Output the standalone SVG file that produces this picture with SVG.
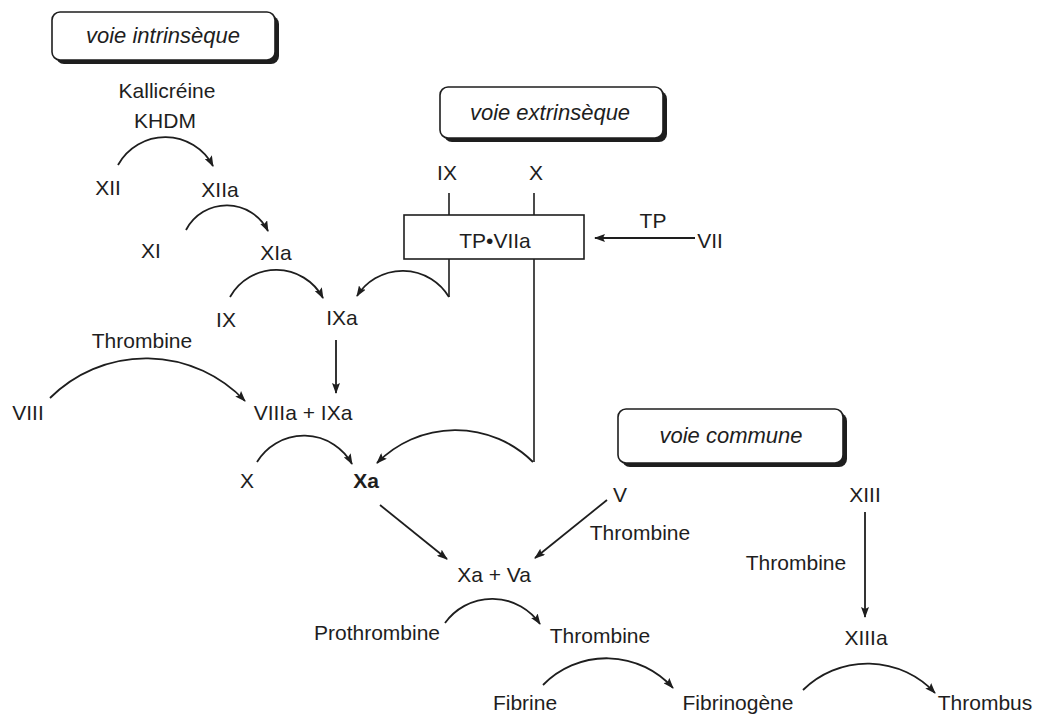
<svg xmlns="http://www.w3.org/2000/svg" width="1042" height="717" viewBox="0 0 1042 717">
<style>
text{font-family:"Liberation Sans",Arial,sans-serif;font-size:21px;fill:#1e1e1e;text-anchor:middle}
.t{font-size:22px;font-style:italic}
.b{font-weight:bold}
.ln{fill:none;stroke:#1e1e1e;stroke-width:1.6}
.ar{fill:none;stroke:#1e1e1e;stroke-width:1.8;marker-end:url(#ah)}
.sh{fill:#1e1e1e}
.bx{fill:#fff;stroke:#1e1e1e;stroke-width:1.6}
</style>
<defs>
<marker id="ah" markerUnits="userSpaceOnUse" markerWidth="11" markerHeight="8" refX="10" refY="4" orient="auto">
<path d="M0,0 L11,4 L0,8 L2,4 z" fill="#1e1e1e"/>
</marker>
</defs>
<rect width="1042" height="717" fill="#fff"/>

<g id="box-intrinseque">
<rect class="sh" x="56" y="16" width="223" height="48" rx="8"/>
<rect class="bx" x="52" y="12" width="223" height="48" rx="8"/>
<text class="t" x="163" y="43">voie intrinsèque</text>
</g>
<g id="box-extrinseque">
<rect class="sh" x="444" y="91" width="223" height="51" rx="8"/>
<rect class="bx" x="440" y="87" width="223" height="51" rx="8"/>
<text class="t" x="550" y="120">voie extrinsèque</text>
</g>
<g id="box-commune">
<rect class="sh" x="622" y="413" width="225" height="54" rx="8"/>
<rect class="bx" x="618" y="409" width="225" height="54" rx="8"/>
<text class="t" x="731" y="443">voie commune</text>
</g>
<g id="tp-viia">
<rect class="bx" x="404" y="215" width="180" height="44"/>
<text x="495" y="248">TP•VIIa</text>
</g>

<g id="n-kallicreine"><text x="167" y="98">Kallicréine</text><text x="165" y="128">KHDM</text></g>
<g id="n-xii"><text x="108" y="195">XII</text></g>
<g id="n-xiia"><text x="220" y="197">XIIa</text></g>
<g id="n-xi"><text x="151" y="258">XI</text></g>
<g id="n-xia"><text x="276" y="260">XIa</text></g>
<g id="n-ix"><text x="226" y="327">IX</text></g>
<g id="n-ixa"><text x="342" y="325">IXa</text></g>
<g id="n-thrombine1"><text x="142" y="348">Thrombine</text></g>
<g id="n-viii"><text x="28" y="420">VIII</text></g>
<g id="n-viiia-ixa"><text x="303" y="420">VIIIa + IXa</text></g>
<g id="n-x"><text x="247" y="488">X</text></g>
<g id="n-xa"><text class="b" x="366" y="488">Xa</text></g>
<g id="n-ix2"><text x="447" y="180">IX</text></g>
<g id="n-x2"><text x="536" y="180">X</text></g>
<g id="n-tp"><text x="653" y="228">TP</text></g>
<g id="n-vii"><text x="710" y="248">VII</text></g>
<g id="n-v"><text x="620" y="502">V</text></g>
<g id="n-thrombine2"><text x="640" y="540">Thrombine</text></g>
<g id="n-xa-va"><text x="494" y="582">Xa + Va</text></g>
<g id="n-xiii"><text x="865" y="502">XIII</text></g>
<g id="n-thrombine3"><text x="796" y="570">Thrombine</text></g>
<g id="n-xiiia"><text x="866" y="645">XIIIa</text></g>
<g id="n-prothrombine"><text x="377" y="640">Prothrombine</text></g>
<g id="n-thrombine4"><text x="600" y="643">Thrombine</text></g>
<g id="n-fibrine"><text x="525" y="710">Fibrine</text></g>
<g id="n-fibrinogene"><text x="738" y="710">Fibrinogène</text></g>
<g id="n-thrombus"><text x="985" y="710">Thrombus</text></g>

<g id="connectors">
<path class="ar" d="M118,165 A54,54 0 0 1 213,166"/>
<path class="ar" d="M186,230 A46,46 0 0 1 268,231"/>
<path class="ar" d="M230,297 A53,53 0 0 1 323,298"/>
<path class="ar" d="M449,297 A54,54 0 0 0 357,296"/>
<path class="ar" d="M50,398 A136,136 0 0 1 245,401"/>
<path class="ar" d="M257,462 A55,55 0 0 1 352,464"/>
<path class="ar" d="M533,462 A110,110 0 0 0 377,463"/>
<path class="ar" d="M445,623 A58,58 0 0 1 540,624"/>
<path class="ar" d="M543,685 A89,89 0 0 1 673,688"/>
<path class="ar" d="M803,690 A92,92 0 0 1 935,693"/>
<path class="ar" d="M695,238 L595,238"/>
<path class="ar" d="M336,340 L336,393"/>
<path class="ar" d="M380,505 L447,559"/>
<path class="ar" d="M607,500 L535,558"/>
<path class="ar" d="M865,512 L865,617"/>
<path class="ln" d="M449,193 V215 M534,193 V215 M449,259 V297 M534,259 V462"/>
</g>
</svg>
